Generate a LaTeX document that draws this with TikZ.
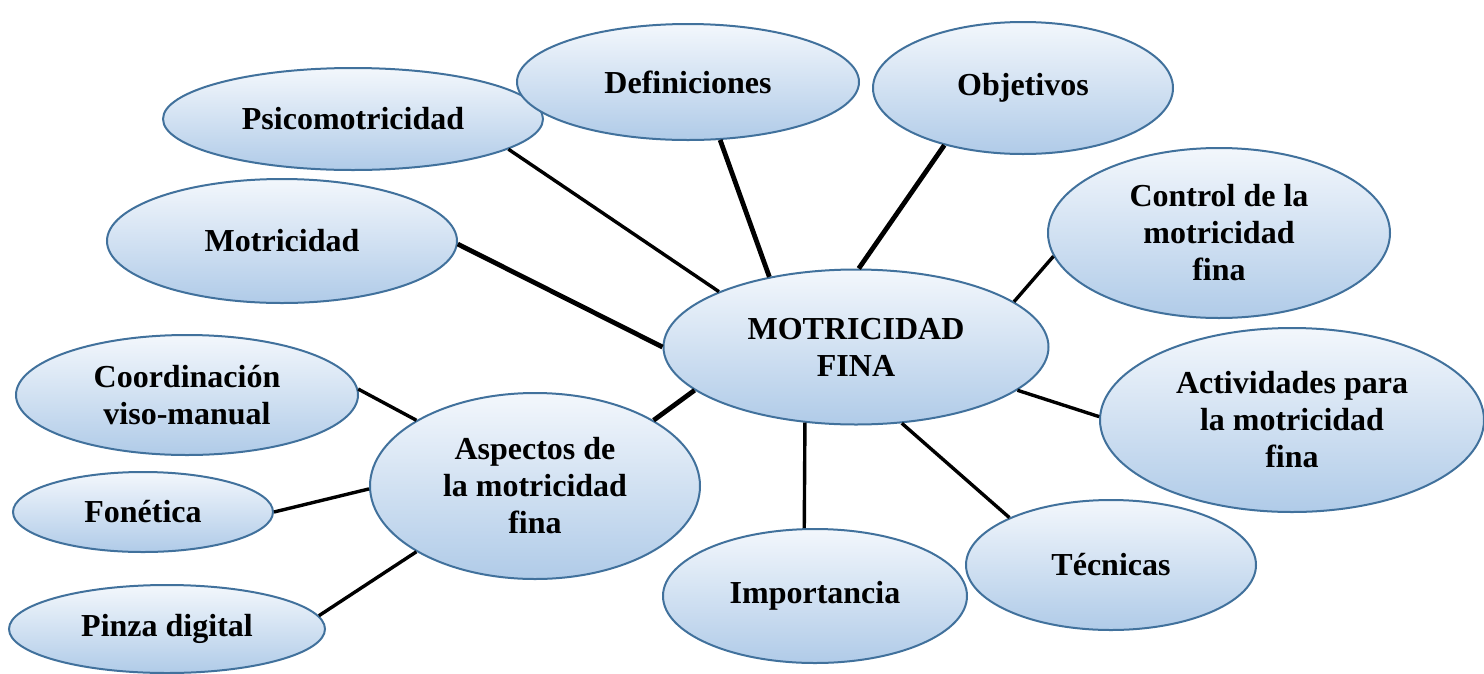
\documentclass[tikz,border=0pt]{standalone}
\usepackage{fontspec}
\setmainfont{Liberation Serif}
\usepackage{xcolor}
\usepackage{tikz}
\usetikzlibrary{shapes.geometric,positioning}
\definecolor{borde}{RGB}{65,113,156}
\definecolor{claro}{RGB}{243,247,252}
\definecolor{oscuro}{RGB}{176,203,232}

\begin{document}
\begin{tikzpicture}[x=1pt,y=-1pt,
  idea/.style={ellipse,draw=borde,line width=2pt,top color=claro,bottom color=oscuro,
    inner sep=0pt,align=center,font=\fontsize{32}{37}\selectfont\bfseries},
  rama/.style={line width=3.4pt},
  gruesa/.style={line width=4.8pt}]
  \useasboundingbox (0,0) rectangle (1484,673);
  \node[idea,minimum width=385pt,minimum height=155pt] (mf)     at (856,347)  {MOTRICIDAD\\FINA};
  \node[idea,minimum width=380pt,minimum height=102pt] (psico)  at (353,119)  {Psicomotricidad};
  \node[idea,minimum width=342pt,minimum height=116pt] (defi)   at (688,82)   {Definiciones};
  \node[idea,minimum width=300pt,minimum height=132pt] (obje)   at (1023,88)  {Objetivos};
  \node[idea,minimum width=342pt,minimum height=170pt] (control) at (1219,233) {Control de la\\motricidad\\fina};
  \node[idea,minimum width=350pt,minimum height=124pt] (motri)  at (282,241)  {Motricidad};
  \node[idea,minimum width=384pt,minimum height=184pt] (activ)  at (1292,420) {Actividades para\\la motricidad\\fina};
  \node[idea,minimum width=342pt,minimum height=120pt] (coord)  at (187,395)  {Coordinación\\viso-manual};
  \node[idea,minimum width=330pt,minimum height=186pt] (aspec)  at (535,486)  {Aspectos de\\la motricidad\\fina};
  \node[idea,minimum width=260pt,minimum height=80pt]  (fone)   at (143,512)  {Fonética};
  \node[idea,minimum width=290pt,minimum height=130pt] (tecni)  at (1111,565) {Técnicas};
  \node[idea,minimum width=304pt,minimum height=134pt] (impor)  at (815,596)  {Importancia};
  \node[idea,minimum width=316pt,minimum height=88pt]  (pinza)  at (167,629)  {Pinza digital};
  % ramas al centro
  \draw[rama]   (psico.-11)   -- (mf.158);
  \draw[gruesa] (defi.-61)    -- (mf.141);
  \draw[gruesa] (obje.-144)   -- (mf.88);
  \draw[rama]   (control.188) -- (mf.16);
  \draw[gruesa] (motri.-1)    -- (mf.180);
  \draw[rama]   (activ.179)   -- (mf.-15);
  \draw[rama]   (impor.99)    -- (mf.-124);
  \draw[rama]   (tecni.155)   -- (mf.-59);
  \draw[gruesa] (aspec.29)    -- (mf.-165);
  % ramas de aspectos
  \draw[rama]   (coord.2)     -- (aspec.151);
  \draw[rama]   (fone.0)      -- (aspec.181);
  \draw[rama]   (pinza.5)     -- (aspec.-151);
\end{tikzpicture}
\end{document}
